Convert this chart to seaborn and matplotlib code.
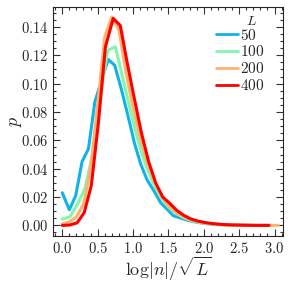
import pandas as pd
import matplotlib.pyplot as plt
import numpy as np
import seaborn as sns
from matplotlib.ticker import MultipleLocator, FormatStrFormatter

# values
x_50 = [0.0, 0.1, 0.19, 0.28, 0.37, 0.46, 0.56, 0.65, 0.74, 0.83, 0.93, 1.02,
        1.11, 1.2, 1.3, 1.39, 1.48, 1.57, 1.67, 1.76, 1.85, 1.94, 2.04, 2.2,
        2.4, 2.6, 2.8, 2.95]
p_50 = [0.023, 0.011, 0.021, 0.045, 0.054, 0.087, 0.103, 0.117, 0.113, 0.097,
        0.077, 0.058, 0.043, 0.032, 0.024, 0.016, 0.0115, 0.0068, 0.0052,
        0.0038, 0.0027, 0.0019, 0.0012, 0.0006, 0.0002, 0.0001, 0.0, 0.0]

x_100 = [0.0, 0.107, 0.214, 0.321, 0.428, 0.535, 0.642, 0.749, 0.856, 0.963,
         1.07, 1.177, 1.284, 1.391, 1.498, 1.605, 1.712, 1.819, 1.926, 2.033,
         2.14, 2.25, 2.35, 2.46, 2.57, 2.68, 2.78, 2.89]
p_100 = [0.0045, 0.006, 0.015, 0.026, 0.05, 0.09, 0.1235, 0.126, 0.104, 0.081,
         0.06, 0.043, 0.03, 0.02, 0.013, 0.0085, 0.0055, 0.0035, 0.0022,
         0.0014, 0.0009, 0.0005, 0.0003, 0.0002, 0.0001, 0.0, 0.0, 0.0]

x_200 = [0.0, 0.1, 0.2, 0.3, 0.4, 0.5, 0.6, 0.7, 0.8, 0.9, 1.0, 1.1, 1.2, 1.3,
         1.4, 1.5, 1.6, 1.7, 1.8, 1.9, 2.0, 2.1, 2.2, 2.3, 2.4, 2.5, 2.6, 2.7,
         2.8, 2.9, 3.05]
p_200 = [0.001, 0.0025, 0.006, 0.015, 0.04, 0.085, 0.133, 0.147, 0.138, 0.108,
         0.083, 0.062, 0.045, 0.031, 0.021, 0.014, 0.0095, 0.0065, 0.0042,
         0.0028, 0.0018, 0.0012, 0.0008, 0.0005, 0.0003, 0.0002, 0.0001, 0.0,
         0.0, 0.0, 0.0]

x_400 = [0.0, 0.11, 0.21, 0.31, 0.41, 0.51, 0.61, 0.72, 0.82, 0.92, 1.02, 1.12,
         1.22, 1.32, 1.42, 1.52, 1.62, 1.72, 1.82, 1.92, 2.02, 2.12, 2.22,
         2.32, 2.42, 2.52, 2.62, 2.72, 2.82, 2.92]
p_400 = [0.0, 0.0003, 0.0018, 0.009, 0.028, 0.072, 0.126, 0.146, 0.141, 0.114,
         0.089, 0.065, 0.045, 0.030, 0.020, 0.0155, 0.0105, 0.007, 0.0045,
         0.003, 0.002, 0.0013, 0.0008, 0.0005, 0.0003, 0.0002, 0.0001, 0.0,
         0.0, 0.0]

sizes = ["50", "100", "200", "400"]
colors = ["#12b2e8", "#80f7aa", "#ffb26e", "#ff0000"]

frames = []
for L, xs, ps in zip(sizes, [x_50, x_100, x_200, x_400],
                     [p_50, p_100, p_200, p_400]):
    frames.append(pd.DataFrame({"x": xs, "p": ps, "L": L}))
table = pd.concat(frames, ignore_index=True)

sns.set_style("ticks")
plt.rcParams.update({
    'font.family': 'serif',
    'font.serif': ['DejaVu Serif'],
    'mathtext.fontset': 'cm',
    'font.size': 9,
})

fig = plt.figure(figsize=(2.9, 2.82), dpi=100)
ax = fig.add_axes([0.183, 0.163, 0.793, 0.812])
sns.lineplot(data=table, x="x", y="p", hue="L", hue_order=sizes,
             palette=colors, linewidth=2.2, ax=ax, sort=False)

ax.set_xlim(-0.13, 3.12)
ax.set_ylim(-0.0075, 0.154)
ax.xaxis.set_major_locator(MultipleLocator(0.5))
ax.xaxis.set_minor_locator(MultipleLocator(0.1))
ax.yaxis.set_major_locator(MultipleLocator(0.02))
ax.yaxis.set_minor_locator(MultipleLocator(0.005))
ax.xaxis.set_major_formatter(FormatStrFormatter(r'$%.1f$'))
ax.yaxis.set_major_formatter(FormatStrFormatter(r'$%.2f$'))
ax.tick_params(which='both', direction='in', top=True, right=True,
               labelsize=10.5, width=0.8, color='#333333')
ax.tick_params(which='major', length=5)
ax.tick_params(which='minor', length=2.5)
for s in ax.spines.values():
    s.set_linewidth(0.8)

ax.set_xlabel(r'$\log|n|/\sqrt{L}$', fontsize=13, labelpad=-0.5)
ax.set_ylabel(r'$p$', fontsize=13, labelpad=-2.5)

leg = ax.legend(loc='upper right', frameon=False,
                bbox_to_anchor=(0.918, 0.91), handlelength=1.45,
                handletextpad=0.12, labelspacing=0.12, fontsize=11,
                borderpad=0, borderaxespad=0)
for t in leg.get_texts():
    t.set_text('$' + t.get_text() + '$')
for h in leg.get_lines():
    h.set_linewidth(2.0)
ax.text(0.864, 0.94, r'$L$', transform=ax.transAxes, fontsize=10,
        ha='center', va='center')

fig.savefig("out.png", dpi=100)
